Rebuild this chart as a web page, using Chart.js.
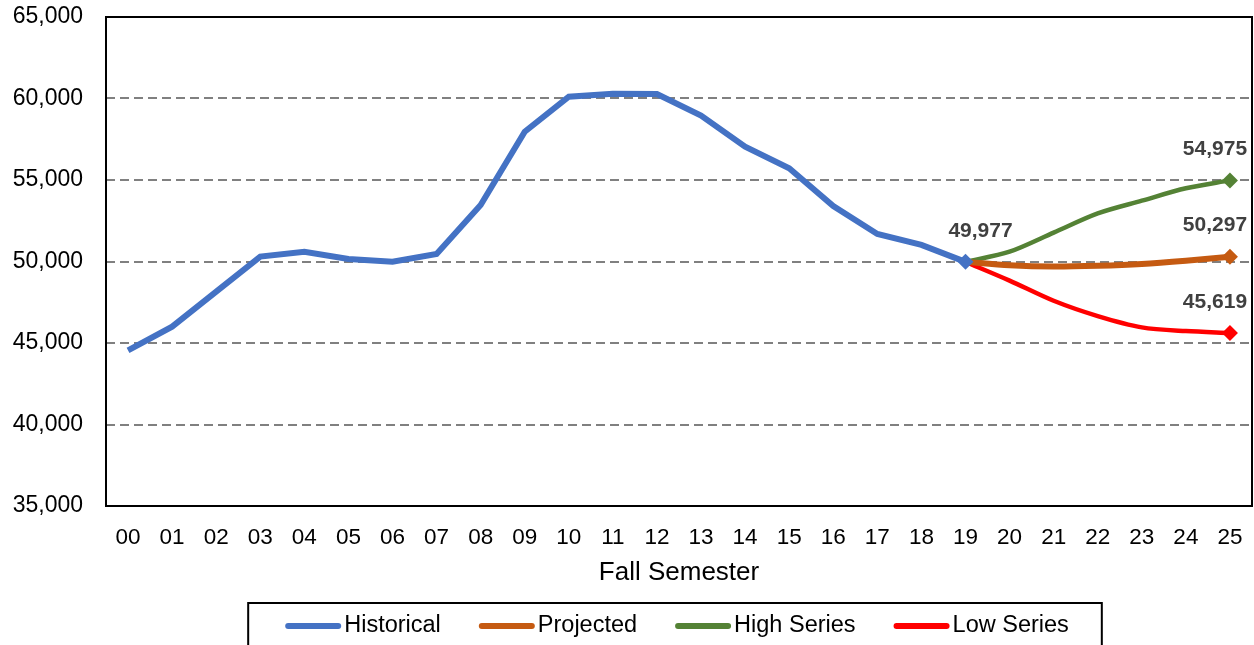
<!DOCTYPE html>
<html>
<head>
<meta charset="utf-8">
<script src="https://cdn.jsdelivr.net/npm/chart.js@4.4.1/dist/chart.umd.min.js"></script>
<style>
  html, body { margin: 0; padding: 0; background: #fff; }
  #wrap { width: 1254px; height: 645px; }
</style>
</head>
<body>
<div id="wrap"><canvas id="c" width="1254" height="645"></canvas></div>
<script>
const categories = ['00','01','02','03','04','05','06','07','08','09','10','11','12','13','14','15','16','17','18','19','20','21','22','23','24','25'];
const historical = [44550, 46000, 48150, 50300, 50600, 50150, 49990, 50460, 53470, 57960, 60110, 60290, 60280, 58950, 57050, 55720, 53400, 51690, 51020, 49977];
const projected  = [null,null,null,null,null,null,null,null,null,null,null,null,null,null,null,null,null,null,null, 49977, 49770, 49690, 49740, 49850, 50050, 50297];
const highSeries = [null,null,null,null,null,null,null,null,null,null,null,null,null,null,null,null,null,null,null, 49977, 50600, 51770, 52950, 53730, 54490, 54975];
const lowSeries  = [null,null,null,null,null,null,null,null,null,null,null,null,null,null,null,null,null,null,null, 49977, 48830, 47590, 46650, 45960, 45730, 45619];
const yTicks = [35000, 40000, 45000, 50000, 55000, 60000, 65000];
const labeledPoints = [
  { dataset: 0, index: 19 },
  { dataset: 1, index: 25 },
  { dataset: 2, index: 25 },
  { dataset: 3, index: 25 }
];

const FONT = "'Liberation Sans', Arial, sans-serif";

const frameAndLabels = {
  id: 'frameAndLabels',
  afterDatasetsDraw(chart) {
    const ctx = chart.ctx;
    const a = chart.chartArea;
    ctx.save();
    ctx.strokeStyle = '#000';
    ctx.lineWidth = 2;
    ctx.strokeRect(a.left, a.top, a.right - a.left, a.bottom - a.top);
    ctx.font = "bold 21px " + FONT;
    ctx.fillStyle = '#404040';
    ctx.textAlign = 'center';
    ctx.textBaseline = 'middle';
    labeledPoints.forEach(p => {
      const el = chart.getDatasetMeta(p.dataset).data[p.index];
      const v = chart.data.datasets[p.dataset].data[p.index];
      const dx = p.index === categories.length - 1 ? -15 : 15;
      ctx.fillText(v.toLocaleString('en-US'), el.x + dx, el.y - 31);
    });
    ctx.restore();
  },
  afterDraw(chart) {
    const ctx = chart.ctx;
    const a = chart.chartArea;
    ctx.save();
    ctx.font = "23.5px " + FONT;
    const sw = 56, gap = 3, spacing = 38;
    const items = chart.data.datasets.map(d => ({ text: d.label, color: d.borderColor, w: ctx.measureText(d.label).width }));
    let total = 0;
    items.forEach((it, i) => { total += sw + gap + it.w + (i < items.length - 1 ? spacing : 0); });
    let x = (a.left + a.right) / 2 - total / 2 - 2;
    const y = chart.height - 19;
    const left = x - 37, right = x + total + 33;
    ctx.strokeStyle = '#000';
    ctx.lineWidth = 2;
    ctx.strokeRect(left, chart.height - 42, right - left, 60);
    ctx.textBaseline = 'middle';
    ctx.textAlign = 'left';
    items.forEach(it => {
      ctx.strokeStyle = it.color;
      ctx.lineWidth = 6;
      ctx.lineCap = 'round';
      ctx.beginPath();
      ctx.moveTo(x + 3, y);
      ctx.lineTo(x + sw - 3, y);
      ctx.stroke();
      ctx.fillStyle = '#000';
      ctx.fillText(it.text, x + sw + gap, y);
      x += sw + gap + it.w + spacing;
    });
    ctx.restore();
  }
};

const diamondAt = (idx, r) => (c) => c.dataIndex === idx ? r : 0;

new Chart(document.getElementById('c'), {
  type: 'line',
  data: {
    labels: categories,
    datasets: [
      { label: 'Historical', data: historical, borderColor: '#4472C4', backgroundColor: '#4472C4', borderWidth: 6, tension: 0,
        pointStyle: 'rectRot', pointRadius: diamondAt(19, 8), pointHoverRadius: 0, pointBorderWidth: 0 },
      { label: 'Projected', data: projected, borderColor: '#C55A11', backgroundColor: '#C55A11', borderWidth: 6, tension: 0.3,
        pointStyle: 'rectRot', pointRadius: diamondAt(25, 8), pointHoverRadius: 0, pointBorderWidth: 0 },
      { label: 'High Series', data: highSeries, borderColor: '#548235', backgroundColor: '#548235', borderWidth: 4.5, tension: 0.3,
        pointStyle: 'rectRot', pointRadius: diamondAt(25, 8), pointHoverRadius: 0, pointBorderWidth: 0 },
      { label: 'Low Series', data: lowSeries, borderColor: '#FF0000', backgroundColor: '#FF0000', borderWidth: 4.5, tension: 0.3,
        pointStyle: 'rectRot', pointRadius: diamondAt(25, 8), pointHoverRadius: 0, pointBorderWidth: 0 }
    ]
  },
  options: {
    responsive: false,
    animation: false,
    events: [],
    layout: { autoPadding: false, padding: { left: 12, right: 2, top: 0, bottom: 57 } },
    plugins: {
      legend: { display: false },
      tooltip: { enabled: false }
    },
    scales: {
      x: {
        offset: true,
        grid: { display: false, drawTicks: false },
        border: { display: false },
        ticks: { color: '#000', font: { family: FONT, size: 22.5 }, padding: 18, maxRotation: 0, autoSkip: false },
        title: { display: true, text: 'Fall Semester', color: '#000', font: { family: FONT, size: 26 }, padding: { top: 7, bottom: 0 } },
        afterFit: (s) => { s.height = 82; s.paddingLeft = 0; s.paddingRight = 0; }
      },
      y: {
        min: yTicks[0],
        max: yTicks[yTicks.length - 1],
        afterBuildTicks: (s) => { s.ticks = yTicks.map(v => ({ value: v })); },
        grid: { color: '#808080', lineWidth: 2, drawTicks: false },
        border: { display: false, dash: [9, 5] },
        ticks: { color: '#000', font: { family: FONT, size: 23 }, padding: 23,
          callback: (v) => Number(v).toLocaleString('en-US') },
        afterFit: (s) => { s.width = 94; s.paddingTop = 17; s.paddingBottom = 0; }
      }
    }
  },
  plugins: [frameAndLabels]
});
</script>
</body>
</html>
